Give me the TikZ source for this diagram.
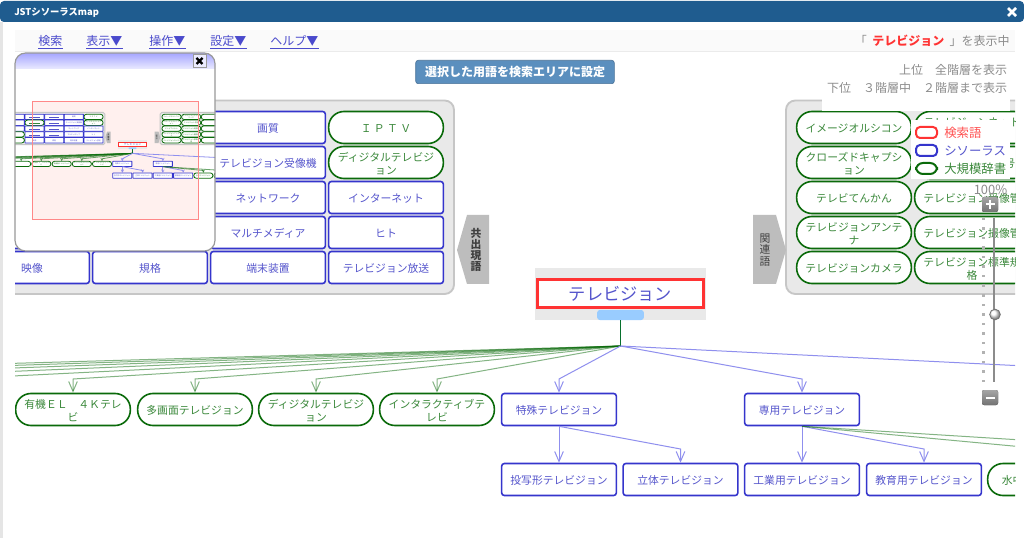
\documentclass[tikz,border=0pt]{standalone}
\usepackage{fontspec}
\setmainfont{Noto Sans CJK JP}
\usetikzlibrary{arrows.meta,calc}
\definecolor{barblue}{HTML}{1F5C8F}
\definecolor{bborder}{HTML}{3535CC}
\definecolor{btext}{HTML}{5555CC}
\definecolor{gborder}{HTML}{0A6A0A}
\definecolor{gtext}{HTML}{3A883A}
\definecolor{panelbg}{HTML}{E9E9E9}
\definecolor{panelln}{HTML}{C6C6C6}
\definecolor{tagbg}{HTML}{BDBDBD}
\definecolor{bline}{HTML}{8F8FEE}
\definecolor{gline}{HTML}{0A6A0A}
\definecolor{redbox}{HTML}{FF3333}
\definecolor{graytx}{HTML}{8C8C8C}
\definecolor{menublue}{HTML}{4A4ACC}
\definecolor{btn}{HTML}{5B8FBE}
\definecolor{handle}{HTML}{99CCFF}
\definecolor{pinkfill}{HTML}{FFF0EE}
\definecolor{pinkln}{HTML}{FF8888}
\newcommand{\fs}{\fontsize{8.1pt}{9.6pt}\selectfont}
\newcommand{\fm}{\fontsize{9pt}{11pt}\selectfont}
\newcommand{\blankcell}{\rule{46pt}{3.5pt}}
\tikzset{
  cellline/.style={line width=1.2pt},
  brad/.style={rounded corners=2pt},
  grad/.style={rounded corners=11.5pt},
  rootline/.style={line width=2.3pt},
  cellbase/.style={minimum width=86pt,minimum height=24pt,inner sep=0pt,fill=white,font=\fs,cellline},
  bcell/.style={cellbase,draw=bborder,text=btext,brad},
  gcell/.style={cellbase,draw=gborder,text=gtext,grad},
  blnk/.style={line width=.75pt,bline},
  glnk/.style={line width=.75pt,gline,opacity=.5},
  tipb/.style={-{Straight Barb[length=7.5pt,width=6.5pt,line width=.75pt]}},
  tipg/.style={-{Straight Barb[length=7.5pt,width=6.5pt,line width=.75pt]}},
  panel/.style={fill=panelbg,draw=panelln,line width=1.4pt,rounded corners=7pt},
  tag/.style={fill=tagbg,draw=none},
  tagtext/.style={inner sep=0pt,align=center,font=\fontsize{8.1pt}{8.4pt}\selectfont,text=black!75},
  menu/.style={inner sep=0pt,minimum height=10.5pt,font=\fm,text=menublue,anchor=west},
  gt/.style={inner sep=0pt,font=\fm,text=graytx},
  lgd/.style={inner sep=0pt,font=\fontsize{9.3pt}{11pt}\selectfont,anchor=west},
}
% name, x, y, style, text
\newcommand{\cell}[5]{\node[#4] (\pf #1) at (#2,#3) {\raisebox{-4pt}[0pt][0pt]{\begin{tabular}{@{}c@{}}#5\end{tabular}}};}
\newcommand{\mapbody}[1]{%
  \def\pf{#1}%
  % panels
  \draw[panel] (-120,100.5) rectangle (454,294);
  \draw[panel] (786,100.5) rectangle (1160,294);
  \draw[tag] (489,215) -- (467,215) -- (457,250) -- (467,284) -- (489,284) -- cycle;
  \draw[tag] (753,215) -- (776,215) -- (786,250) -- (776,284) -- (753,284) -- cycle;
  \node[tagtext,font=\bfseries\fontsize{8.1pt}{8.4pt}\selectfont] (\pf tagl) at (476,250) {共\\出\\現\\語};
  \node[tagtext] (\pf tagr) at (765,250) {関\\連\\語};
  % left panel cells
  \cell{la1}{386}{127.5}{gcell}{Ｉ Ｐ Ｔ Ｖ}
  \cell{la2}{386}{162.5}{gcell}{ディジタルテレビジ\\ョン}
  \cell{la3}{386}{197.5}{bcell}{インターネット}
  \cell{la4}{386}{232.5}{bcell}{ヒト}
  \cell{la5}{386}{267.5}{bcell}{テレビジョン放送}
  \cell{lb1}{268}{127.5}{bcell}{画質}
  \cell{lb2}{268}{162.5}{bcell}{テレビジョン受像機}
  \cell{lb3}{268}{197.5}{bcell}{ネットワーク}
  \cell{lb4}{268}{232.5}{bcell}{マルチメディア}
  \cell{lb5}{268}{267.5}{bcell}{端末装置}
  \cell{lc1}{150}{127.5}{bcell}{\blankcell}
  \cell{lc2}{150}{162.5}{bcell}{\blankcell}
  \cell{lc3}{150}{197.5}{bcell}{\blankcell}
  \cell{lc4}{150}{232.5}{bcell}{\blankcell}
  \cell{lc5}{150}{267.5}{bcell}{規格}
  \cell{ld1}{32}{127.5}{bcell}{\blankcell}
  \cell{ld2}{32}{162.5}{gcell}{\blankcell}
  \cell{ld3}{32}{197.5}{bcell}{\blankcell}
  \cell{ld4}{32}{232.5}{bcell}{\blankcell}
  \cell{ld5}{32}{267.5}{bcell}{映像}
  \cell{le1}{-86}{127.5}{bcell}{}
  \cell{le2}{-86}{162.5}{bcell}{}
  \cell{le3}{-86}{197.5}{bcell}{}
  \cell{le4}{-86}{232.5}{gcell}{}
  \cell{le5}{-86}{267.5}{gcell}{}
  % right panel cells
  \cell{ra1}{854}{127.5}{gcell}{イメージオルシコン}
  \cell{ra2}{854}{162.5}{gcell}{クローズドキャプシ\\ョン}
  \cell{ra3}{854}{197.5}{gcell}{テレビてんかん}
  \cell{ra4}{854}{232.5}{gcell}{テレビジョンアンテ\\ナ}
  \cell{ra5}{854}{267.5}{gcell}{テレビジョンカメラ}
  \cell{rb1}{972}{127.5}{gcell}{テレビジョンネット\\ワーク}
  \cell{rb2}{972}{162.5}{gcell}{テレビジョン信号}
  \cell{rb3}{972}{197.5}{gcell}{テレビジョン受像管}
  \cell{rb4}{972}{232.5}{gcell}{テレビジョン撮像管}
  \cell{rb5}{972}{267.5}{gcell}{テレビジョン標準規\\格}
  \cell{rc1}{1090}{127.5}{gcell}{}
  \cell{rc2}{1090}{162.5}{gcell}{}
  \cell{rc3}{1090}{197.5}{gcell}{}
  \cell{rc4}{1090}{232.5}{gcell}{}
  \cell{rc5}{1090}{267.5}{gcell}{}
  % root
  \fill[panelbg] (535,268) rectangle (706,320);
  \node[draw=redbox,rootline,fill=white,minimum width=124.5pt,minimum height=20.6pt,inner sep=0pt,text=btext,font=\fontsize{12.9pt}{14pt}\selectfont] (\pf root) at (620.5,293.5) {テレビジョン};
  \node[fill=handle,minimum width=35pt,minimum height=7.5pt,inner sep=0pt,brad] (\pf hand) at (620.5,315) {};
  % first row
  \coordinate (\pf fan) at (620.5,346);
  \coordinate (\pf ra) at (0,379);
  \coordinate (\pf rb) at (0,449);
  \cell{t0}{-534}{409.5}{gcell}{}
  \cell{t1}{-412}{409.5}{gcell}{}
  \cell{t2}{-291}{409.5}{gcell}{}
  \cell{t3}{-170}{409.5}{gcell}{}
  \cell{t4}{-48}{409.5}{gcell}{}
  \cell{t5}{73}{409.5}{gcell}{有機ＥＬ　４Ｋテレ\\ビ}
  \cell{t6}{195}{409.5}{gcell}{多画面テレビジョン}
  \cell{t7}{316}{409.5}{gcell}{ディジタルテレビジ\\ョン}
  \cell{t8}{437}{409.5}{gcell}{インタラクティブテ\\レビ}
  \cell{t9}{559}{409.5}{bcell}{特殊テレビジョン}
  \cell{t10}{802}{409.5}{bcell}{専用テレビジョン}
  \cell{t11}{1288}{409.5}{bcell}{}
  % second row
  \cell{u1}{559}{479.5}{bcell}{投写形テレビジョン}
  \cell{u2}{680.5}{479.5}{bcell}{立体テレビジョン}
  \cell{u3}{802}{479.5}{bcell}{工業用テレビジョン}
  \cell{u4}{924}{479.5}{bcell}{教育用テレビジョン}
  \cell{u5}{1045}{479.5}{gcell}{水中テレビジョン}
  \cell{u6}{1166}{479.5}{gcell}{}
  % connectors
  \draw[line width=.8pt,draw=gborder!70!teal] (\pf hand.south) -- (\pf fan);
  \foreach \t in {t0,t1,t2,t3,t4,t5,t6,t7,t8}{
    \draw[glnk,tipg] (\pf fan) -- (\pf\t.north |- \pf ra) -- (\pf\t.north);
  }
  \foreach \t in {t9,t10,t11}{
    \draw[blnk,tipb] (\pf fan) -- (\pf\t.north |- \pf ra) -- (\pf\t.north);
  }
  \draw[blnk,tipb] (\pf t9.south) -- (\pf u1.north);
  \draw[blnk,tipb] (\pf t9.south) -- (\pf u2.north |- \pf rb) -- (\pf u2.north);
  \draw[blnk,tipb] (\pf t10.south) -- (\pf u3.north);
  \draw[blnk,tipb] (\pf t10.south) -- (\pf u4.north |- \pf rb) -- (\pf u4.north);
  \draw[glnk,tipg] (\pf t10.south) -- (\pf u5.north |- \pf rb) -- (\pf u5.north);
  \draw[glnk,tipg] (\pf t10.south) -- (\pf u6.north |- \pf rb) -- (\pf u6.north);
}
\begin{document}
\begin{tikzpicture}[x=0.75pt,y=-0.75pt]
\useasboundingbox (0,0) rectangle (1024,538);
\fill[white] (0,0) rectangle (1024,538);
\fill[black!10] (0,22) rectangle (2.5,538);
% map
\begin{scope}
  \clip (15,30) rectangle (1015,538);
  \mapbody{m}
\end{scope}
% white veil and legend behind the labels
\fill[white] (822,99) rectangle (1010,111);
\fill[white] (911,120) rectangle (1010,179);
\draw[line width=1.5pt,draw=redbox,rounded corners=3pt] (916,127) rectangle (937,138);
\draw[line width=1.5pt,draw=bborder,rounded corners=3pt] (916,145) rectangle (937,156);
\draw[line width=1.5pt,draw=gborder,rounded corners=5.2pt] (916,163) rectangle (937,174);
\node[lgd,text=redbox!85] (lg1) at (944,132.5) {検索語};
\node[lgd,text=btext] (lg2) at (944,150.5) {シソーラス};
\node[lgd,text=gtext] (lg3) at (944,168.5) {大規模辞書};
% title bar
\fill[barblue,rounded corners=3pt] (0,1) rectangle (1024,22);
\node[inner sep=0pt,anchor=west,text=white,font=\bfseries\fontsize{7pt}{9pt}\selectfont] (title) at (14,13) {JSTシソーラスmap};
\draw[white,line width=2pt] (1008,8) -- (1016,16) (1016,8) -- (1008,16);
% toolbar
\fill[black!2] (15,30) rectangle (1015,52);
\draw[black!8,line width=.75pt] (15,52) -- (1015,52);
\node[menu] (m1) at (38,41) {検索};
\node[menu] (m2) at (86,41) {表示▼};
\node[menu] (m3) at (149,41) {操作▼};
\node[menu] (m4) at (210,41) {設定▼};
\node[menu] (m5) at (270,41) {ヘルプ▼};
\foreach \m in {m1,m2,m3,m4,m5}{\draw[menublue,line width=.6pt] (\m.south west) -- (\m.south east);}
\node[gt,anchor=east] (stat) at (1010,41) {「\hspace{.45em}{\bfseries\color{redbox}テレビジョン}\hspace{.45em}」を表示中};
\node[gt,anchor=east] (up) at (1007.5,70) {上位　全階層を表示};
\node[gt,anchor=east] (dn) at (1007.5,88) {下位　３階層中　２階層まで表示};
\node[fill=btn,draw=btn!80!black,line width=.5pt,rounded corners=2pt,minimum width=149pt,minimum height=17.5pt,inner sep=0pt,text=white,font=\bfseries\fontsize{9pt}{10pt}\selectfont] (setbtn) at (515,72) {選択した用語を検索エリアに設定};
% slider
\foreach \y in {218,227.5,...,383}{\fill[black!30] (982,\y) rectangle (984.5,\y+2.5);}
\draw[black!45,line width=1.5pt] (994,218) -- (994,382);
\node[inner sep=0pt,text=graytx,font=\fontsize{9.7pt}{10pt}\selectfont] (pct) at (990.5,190) {100\%};
\fill[top color=black!35,bottom color=black!55,rounded corners=1.5pt] (982,197) rectangle (998,212);
\draw[white,line width=1.5pt] (990,200) -- (990,209) (985.5,204.5) -- (994.5,204.5);
\shade[ball color=white] (995,314.5) circle (4pt);
\draw[black!55,line width=.6pt] (995,314.5) circle (4pt);
\fill[top color=black!35,bottom color=black!55,rounded corners=1.5pt] (982,390) rectangle (998,405);
\draw[white,line width=1.5pt] (985.5,397.5) -- (994.5,397.5);
% minimap
\fill[white,rounded corners=8pt] (15,53) rectangle (215,251);
\begin{scope}
  \clip[rounded corners=8pt] (15,53) rectangle (215,251);
  \fill[top color=blue!35!white,bottom color=blue!8!white] (15,53) rectangle (215,69);
  \fill[pinkfill] (32,101) rectangle (198,219);
  \begin{scope}[shift={(29.17,95.67)},scale=0.16667,transform shape]
    \tikzset{
      cellline/.style={line width=.6pt},
      brad/.style={rounded corners=.3pt},
      grad/.style={rounded corners=1.9pt},
      rootline/.style={line width=.8pt},
      tipb/.style={-{Straight Barb[length=2pt,width=2pt,line width=.4pt]}},
      tipg/.style={-{Straight Barb[length=2pt,width=2pt,line width=.4pt]}},
      blnk/.style={line width=.6pt,bline},
      glnk/.style={line width=.6pt,gline,opacity=.6},
      panel/.style={fill=panelbg,draw=panelln,line width=.7pt,rounded corners=1.2pt},
    }
    \mapbody{n}
  \end{scope}
  \draw[pinkln,line width=.7pt] (32,101) rectangle (198,219);
\end{scope}
\draw[black!40,line width=.9pt,rounded corners=8pt] (15,53) rectangle (215,251);
\draw[black!40,fill=blue!8!white,line width=.6pt] (193,54.5) rectangle (206,67.5);
\draw[black,line width=1.6pt] (196.5,58) -- (202.5,64) (202.5,58) -- (196.5,64);
\end{tikzpicture}
\end{document}
